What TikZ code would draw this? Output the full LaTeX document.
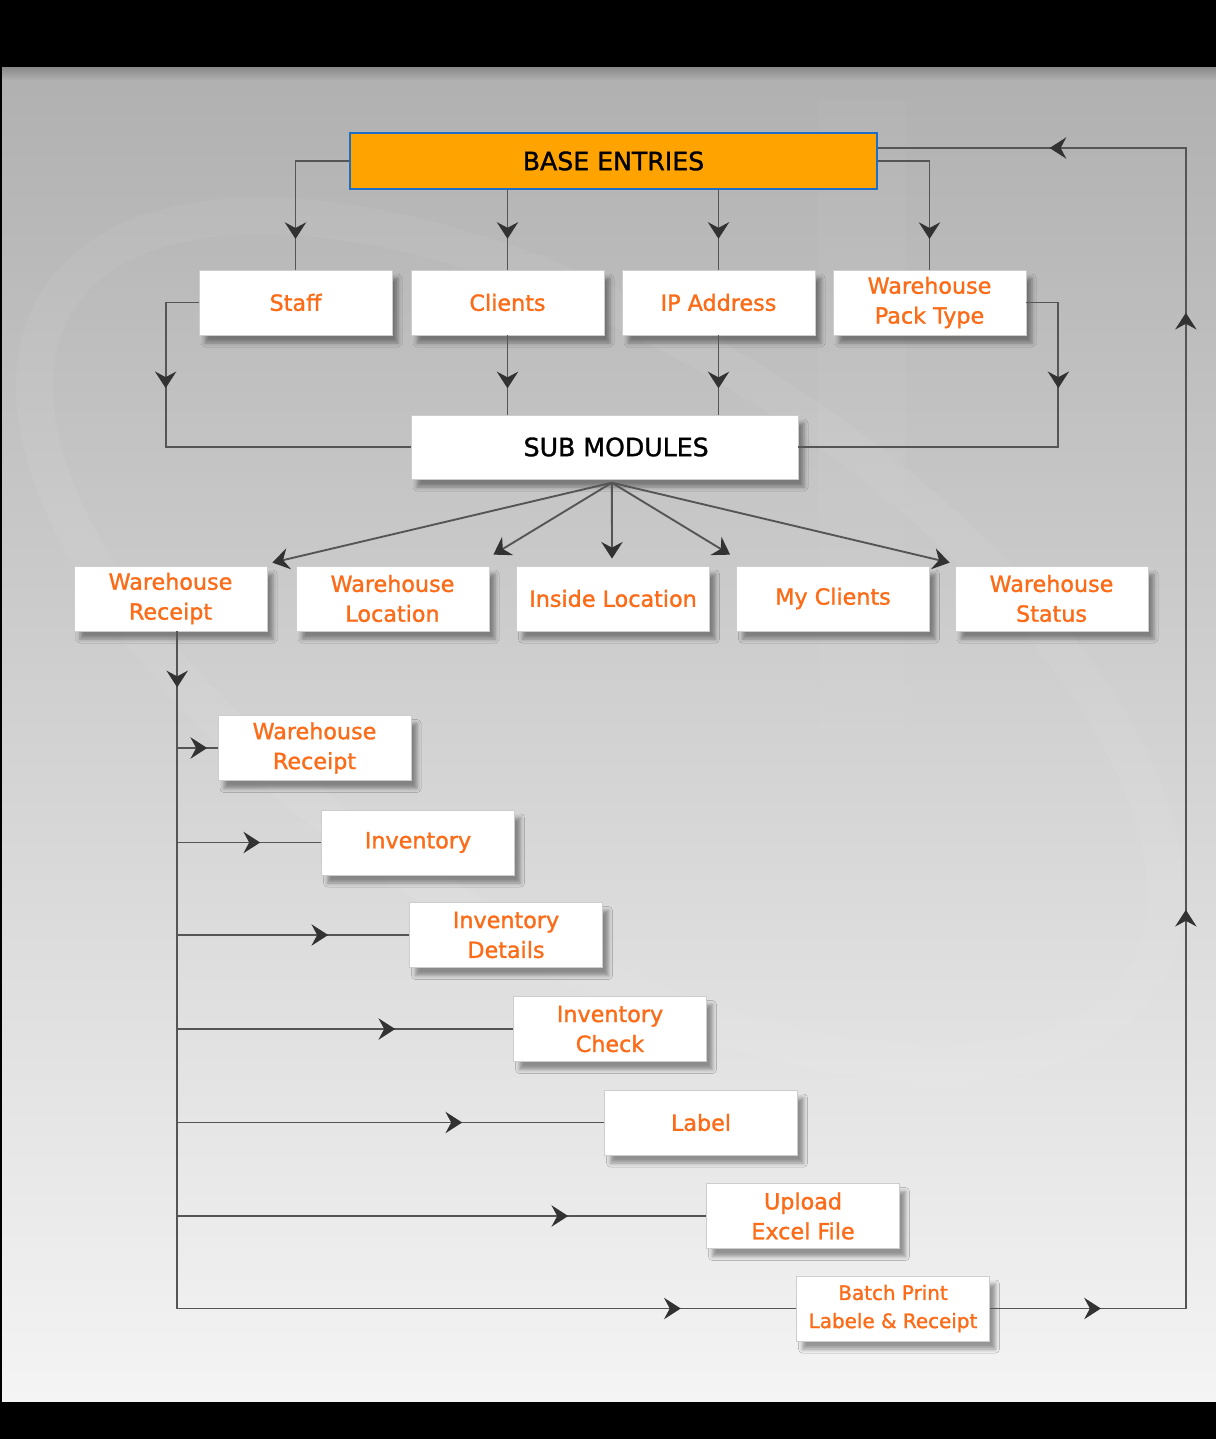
\documentclass[tikz,border=0pt]{standalone}
\usepackage{fontspec}
\setmainfont{DejaVu Sans}
\newfontfamily\semib[FakeBold=1.3]{DejaVu Sans}
\usetikzlibrary{arrows.meta,decorations.markings,shadows,shadows.blur,calc}
\definecolor{lineC}{RGB}{85,85,85}
\definecolor{arrC}{RGB}{50,50,50}
\definecolor{orangeT}{RGB}{252,108,24}
\definecolor{baseF}{RGB}{255,163,0}
\definecolor{baseB}{RGB}{30,110,200}
\definecolor{boxB}{RGB}{205,205,205}
\tikzset{
  mytip/.tip={Stealth[length=0.5cm,width=0.64cm,inset=0.17cm,color=arrC]},
  conn/.style={draw=lineC,line width=1.6pt},
  am/.style={postaction={decorate,decoration={markings,mark=at position #1 with {\arrow{mytip}}}}},
  box/.style={draw=boxB,line width=0.6pt,fill=white,minimum width=5.79cm,minimum height=1.95cm,
    align=center,text=orangeT,inner sep=0pt,font=\semib\fontsize{19}{25.5}\selectfont,
    blur shadow={shadow xshift=0.18cm,shadow yshift=-0.24cm,shadow blur radius=0.12cm,shadow opacity=38}},
}
\begin{document}
\begin{tikzpicture}[x=0.03cm,y=-0.03cm]
\useasboundingbox (0,0) rectangle (1216,1439);
% background
\fill[black] (0,0) rectangle (1216,1439);
\shade[top color={rgb,255:red,176;green,176;blue,176},bottom color={rgb,255:red,244;green,244;blue,244}] (2,68) rectangle (1216,1401);
\shade[top color={rgb,255:red,140;green,140;blue,140},bottom color={rgb,255:red,176;green,176;blue,176}] (2,68) rectangle (1216,80);
% watermark
\begin{scope}[opacity=0.055]
  \draw[white,line width=1.1cm,rotate around={-32:(600,640)}] (600,640) ellipse [x radius=640,y radius=300];
\end{scope}
\fill[white,opacity=0.035] (818,100) rectangle (905,730);

% nodes
\node[draw=baseB,line width=1.4pt,fill=baseF,minimum width=15.81cm,minimum height=1.68cm,inner sep=0pt,
  font=\semib\fontsize{21.5}{24}\selectfont,text=black] (BASE) at (613.5,161) {BASE ENTRIES};

\node[box] (Staff) at (295.5,302.5) {Staff};
\node[box] (Clients) at (507.5,302.5) {Clients};
\node[box] (IP) at (718.5,302.5) {IP Address};
\node[box] (WPT) at (929.5,302.5) {Warehouse\\Pack Type};

\node[box,minimum width=11.61cm,minimum height=1.92cm,text=black,font=\semib\fontsize{21.5}{24}\selectfont] (SUB) at (604.5,447) {\hspace*{0.7cm}SUB MODULES};

\node[box] (WR) at (170.5,598.5) {Warehouse\\Receipt};
\node[box] (WL) at (392.5,598.5) {Warehouse\\Location};
\node[box] (IL) at (613,598.5) {Inside Location};
\node[box] (MC) at (833,598.5) {My Clients};
\node[box] (WS) at (1051.5,598.5) {Warehouse\\Status};

\node[box] (WR2) at (314.5,748) {Warehouse\\Receipt};
\node[box] (Inv) at (418,842.5) {Inventory};
\node[box] (InvD) at (506,935) {Inventory\\Details};
\node[box] (InvC) at (610,1029) {Inventory\\Check};
\node[box] (Lab) at (701,1122.5) {Label};
\node[box] (Up) at (803,1216) {Upload\\Excel File};
\node[box,font=\semib\fontsize{17}{24}\selectfont] (Batch) at (893,1308.5) {Batch Print\\Labele \& Receipt};

% connectors: base entries
\path[conn,am=3.95cm] (BASE.west) -| (Staff.north);
\path[conn,am=1.47cm] (Clients.north |- BASE.south) -- (Clients.north);
\path[conn,am=1.47cm] (IP.north |- BASE.south) -- (IP.north);
\path[conn,am=3.89cm] (BASE.east) -| (WPT.north);

% to sub modules
\path[conn,am=3.56cm] (Staff.west) -- ++(-33,0) |- (SUB.west);
\path[conn,am=1.59cm] (Clients.south) -- (Clients.south |- SUB.north);
\path[conn,am=1.59cm] (IP.south) -- (IP.south |- SUB.north);
\path[conn,am=3.53cm] (WPT.east) -- ++(32,0) |- (SUB.east);

% fan
\coordinate (fan) at ([xshift=0.22cm,yshift=-0.1cm]SUB.south);
\draw[conn,-mytip] (fan) -- ($(WR.north east)+(5,-3)$);
\draw[conn,-mytip] (fan) -- ($(WL.north east)+(4,-11)$);
\draw[conn,-mytip] (fan) -- ($(IL.north)+(-1,-7)$);
\draw[conn,-mytip] (fan) -- ($(MC.north west)+(-6,-11)$);
\draw[conn,-mytip] (fan) -- ($(WS.north west)+(-5,-3)$);

% trunk
\coordinate (trunk) at ([xshift=0.2cm]WR.south);
\path[conn,am=1.68cm,am=35.42cm] (trunk) |- (Batch.west);
\path[conn,am=0.9cm] (trunk |- WR2.west) -- (WR2.west);
\path[conn,am=2.49cm] (trunk |- Inv.west) -- (Inv.west);
\path[conn,am=4.53cm] (trunk |- InvD.west) -- (InvD.west);
\path[conn,am=6.54cm] (trunk |- InvC.west) -- (InvC.west);
\path[conn,am=8.55cm] (trunk |- Lab.west) -- (Lab.west);
\path[conn,am=11.73cm] (trunk |- Up.west) -- (Up.west);

% return loop
\path[conn,am=3.33cm,am=17.84cm,am=35.75cm,am=44.78cm] (Batch.east) -- ++(196,0) |- ([yshift=0.39cm]BASE.east);
\end{tikzpicture}
\end{document}
